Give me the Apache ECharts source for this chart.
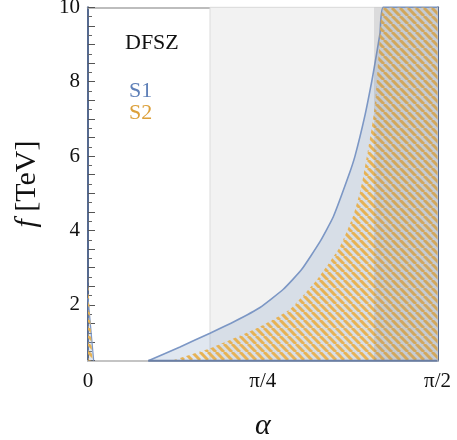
<!DOCTYPE html>
<html>
<head>
<meta charset="utf-8">
<script src="https://cdn.jsdelivr.net/npm/echarts@6/dist/echarts.min.js"></script>
<style>
html, body { margin: 0; padding: 0; background: #fff; }
#main { width: 457px; height: 440px; }
</style>
</head>
<body>
<div id="main"></div>
<script>
"use strict";

// S1 boundary curve (alpha in rad, f in TeV)
var s1Alpha = [0.2710, 0.4135, 0.5483, 0.66, 0.7730, 0.8778, 0.96, 1.0427, 1.1025, 1.1699, 1.2000, 1.2450, 1.2751, 1.2899, 1.3124, 1.3272, 1.5708];
var s1F     = [0.5,    0.87,   1.24,   1.56, 1.93,   2.42,   2.95, 3.70,   4.37,   5.45,   6.0,    7.1,    8.0,    8.5,    9.3,    10,     10];

// S2 boundary curve
var s2Alpha = [0.3762, 0.5483, 0.7730, 0.9079, 1.0279, 1.1326, 1.1924, 1.2225, 1.2373, 1.2751, 1.2877, 1.2966, 1.3079, 1.3304, 1.5708];
var s2F     = [0.5,    0.833,  1.414,  1.882,  2.669,  3.565,  4.40,   5.05,   5.45,   6.75,   7.3,    7.9,    8.85,   10,     10];

// small slivers at alpha ~ 0
var s1LeftAlpha = [0, 0.0256];
var s1LeftF     = [2.19, 0.5];
var s2LeftAlpha = [0, 0.020];
var s2LeftF     = [2.73, 0.5];

// shaded alpha bands
var lightBand = [0.5483, 1.5708];
var darkBand  = [1.2855, 1.5708];

var xTickLabels = ['0', 'π/4', 'π/2'];

function zip(a, b) {
    var out = [];
    for (var i = 0; i < a.length; i++) out.push([a[i], b[i]]);
    return out;
}

// diagonal hatch for S2
function hatch() {
    var p = 8;
    var c = document.createElement('canvas');
    c.width = p; c.height = p;
    var ctx = c.getContext('2d');
    ctx.strokeStyle = '#e6b255';
    ctx.lineWidth = 3;
    [-p, 0, p].forEach(function(x0) {
        ctx.beginPath();
        ctx.moveTo(x0, 0);
        ctx.lineTo(x0 + p, p);
        ctx.stroke();
    });
    return { image: c, repeat: 'repeat' };
}

var serif = 'Liberation Serif';
var s1Line = '#7c97c5';
var s1Fill = 'rgba(150,172,205,0.42)';
var hatchFill = hatch();

var yCommon = {
    type: 'value', min: 0.5, max: 10, interval: 0.5,
    splitLine: { show: false },
    axisTick: { show: true, inside: true, length: 7, lineStyle: { color: '#555', width: 1 } },
    minorTick: { show: true, splitNumber: 2, length: 4, lineStyle: { color: '#666' } }
};

var myChart = echarts.init(document.getElementById('main'));
var option = {
    animation: false,
    backgroundColor: '#fff',
    grid: { left: 88, right: 19.5, top: 7.3, bottom: 79.3, outerBoundsMode: 'none', containLabel: false },
    xAxis: [
        {
            type: 'value', min: 0, max: 1.5708, interval: 0.7854,
            name: 'α', nameLocation: 'middle', nameGap: 50,
            nameTextStyle: { fontFamily: serif, fontStyle: 'italic', fontSize: 30, color: '#111' },
            axisLine: { onZero: false, lineStyle: { color: '#c4c4c4', width: 2 } },
            axisTick: { inside: true, length: 7, lineStyle: { color: '#555' } },
            splitLine: { show: false },
            axisLabel: {
                margin: 10, fontFamily: serif, fontSize: 21, color: '#111',
                formatter: function(v, i) { return xTickLabels[i] || ''; }
            }
        },
        {
            type: 'value', min: 0, max: 1.5708, position: 'top',
            axisLine: { onZero: false, lineStyle: { color: '#a8a8a8', width: 1.5 } },
            axisTick: { show: false }, axisLabel: { show: false }, splitLine: { show: false }
        }
    ],
    yAxis: [
        Object.assign({}, yCommon, {
            name: '{i|f} [TeV]', nameLocation: 'middle', nameGap: 46,
            nameTextStyle: {
                fontFamily: serif, fontSize: 30, color: '#111',
                rich: { i: { fontFamily: serif, fontStyle: 'italic', fontSize: 30, color: '#111' } }
            },
            axisLine: { show: true, onZero: false, lineStyle: { color: '#55698f', width: 2 } },
            axisLabel: {
                margin: 8, fontFamily: serif, fontSize: 21, color: '#111',
                formatter: function(v) { return (v % 2 === 0) ? String(v) : ''; }
            }
        }),
        Object.assign({}, yCommon, {
            position: 'right',
            axisLine: { show: true, onZero: false, lineStyle: { color: '#55698f', width: 2 } },
            axisLabel: { show: false }
        })
    ],
    series: [
        {
            // light gray band
            type: 'line', data: [], z: 1,
            markArea: {
                silent: true,
                itemStyle: { color: '#f2f2f2', borderColor: '#dcdcdc', borderWidth: 1 },
                data: [[{ xAxis: lightBand[0] }, { xAxis: lightBand[1] }]]
            }
        },
        {
            name: 'S1', type: 'line', z: 2, clip: false,
            data: zip(s1Alpha, s1F), symbol: 'none', smooth: 0.15,
            lineStyle: { color: s1Line, width: 1.6 },
            areaStyle: { color: s1Fill, origin: 'start' }
        },
        {
            name: 'S1left', type: 'line', z: 2, clip: false,
            data: zip(s1LeftAlpha, s1LeftF), symbol: 'none',
            lineStyle: { color: s1Line, width: 1.2 },
            areaStyle: { color: s1Fill, origin: 'start' }
        },
        {
            name: 'S2', type: 'line', z: 3,
            data: zip(s2Alpha, s2F), symbol: 'none', smooth: 0.15,
            lineStyle: { width: 0 },
            areaStyle: { color: hatchFill, opacity: 1, origin: 'start' }
        },
        {
            name: 'S2left', type: 'line', z: 3,
            data: zip(s2LeftAlpha, s2LeftF), symbol: 'none',
            lineStyle: { width: 0 },
            areaStyle: { color: hatchFill, opacity: 1, origin: 'start' }
        },
        {
            // S1 lower edge along the axis
            type: 'line', z: 4, clip: false, symbol: 'none',
            data: [[s1Alpha[0], 0.5], [1.5708, 0.5]],
            lineStyle: { color: '#6a7fa6', width: 2 }
        },
        {
            // darker gray band on top
            type: 'line', z: 10, symbol: 'none',
            data: [[darkBand[0], 10], [darkBand[1], 10]],
            lineStyle: { width: 0 },
            areaStyle: { color: 'rgba(120,120,125,0.27)', origin: 'start' }
        }
    ],
    graphic: [
        { type: 'text', left: 125, top: 32, style: { text: 'DFSZ', fontFamily: serif, fontSize: 22, fill: '#111' } },
        { type: 'text', left: 129, top: 80, style: { text: 'S1', fontFamily: serif, fontSize: 22, fill: '#5f80b8' } },
        { type: 'text', left: 129, top: 102, style: { text: 'S2', fontFamily: serif, fontSize: 22, fill: '#dca03a' } }
    ]
};
myChart.setOption(option);
</script>
</body>
</html>
